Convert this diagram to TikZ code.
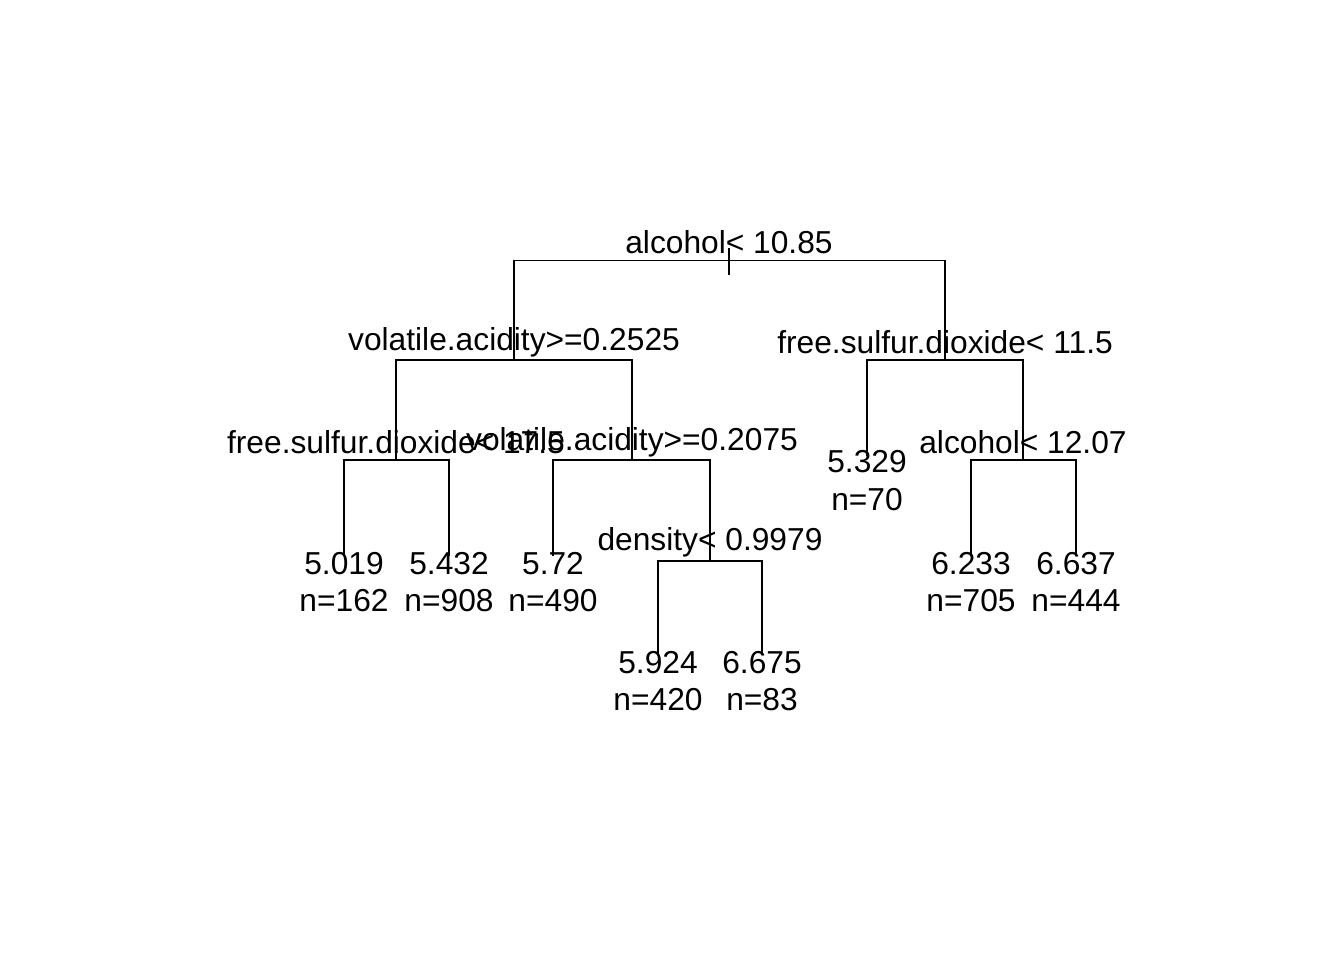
\documentclass[tikz,border=0pt]{standalone}
\usepackage{fontspec}
\setmainfont{Liberation Sans}
\usetikzlibrary{calc}
\begin{document}
\begin{tikzpicture}[x=0.75pt, y=-0.75pt, line width=1.4pt,
                    lab/.style={anchor=base, inner sep=0pt,
                                font=\fontsize{23.8}{28}\selectfont}]
    \useasboundingbox (0,0) rectangle (1344,960);
    % split points
    \coordinate (root) at (729, 260.5);
    \coordinate (va1) at (514, 360);
    \coordinate (fsd1) at (945, 360);
    \coordinate (fsd2) at (396, 460);
    \coordinate (va2) at (632, 460);
    \coordinate (alc2) at (1023, 460);
    \coordinate (dens) at (710, 561);
    % leaf ends
    \coordinate (lfA) at (344, 556);
    \coordinate (lfB) at (449, 556);
    \coordinate (lfC) at (553, 556);
    \coordinate (lfD) at (867, 456);
    \coordinate (lfE) at (658, 655);
    \coordinate (lfF) at (762, 655);
    \coordinate (lfG) at (971, 556);
    \coordinate (lfH) at (1076, 556);

    % branches
    \draw ($(root)+(0,-12.5)$) -- ($(root)+(0,14.5)$);
    \draw (va1) |- (root) -| (fsd1);
    \draw (fsd2) |- (va1) -| (va2);
    \draw (lfD) |- (fsd1) -| (alc2);
    \draw (lfA) |- (fsd2) -| (lfB);
    \draw (lfC) |- (va2) -| (dens);
    \draw (lfE) |- (dens) -| (lfF);
    \draw (lfG) |- (alc2) -| (lfH);

    % split labels
    \node[lab] (tRoot) at (729, 253) {alcohol< 10.85};
    \node[lab] (tVa1) at (514, 350) {volatile.acidity>=0.2525};
    \node[lab] (tFsd1) at (945, 353.5) {free.sulfur.dioxide< 11.5};
    \node[lab] (tFsd2) at (396, 453.5) {free.sulfur.dioxide< 17.5};
    \node[lab] (tVa2) at (632, 450.5) {volatile.acidity>=0.2075};
    \node[lab] (tAlc2) at (1023, 453.5) {alcohol< 12.07};
    \node[lab] (tDens) at (710, 550.5) {density< 0.9979};

    % leaf labels
    \node[lab] (yA) at (344, 574) {5.019};
    \node[lab] (nA) at (344, 611) {n=162};
    \node[lab] (yB) at (449, 574) {5.432};
    \node[lab] (nB) at (449, 611) {n=908};
    \node[lab] (yC) at (553, 574) {5.72};
    \node[lab] (nC) at (553, 611) {n=490};
    \node[lab] (yD) at (867, 472) {5.329};
    \node[lab] (nD) at (867, 510) {n=70};
    \node[lab] (yE) at (658, 673) {5.924};
    \node[lab] (nE) at (658, 710) {n=420};
    \node[lab] (yF) at (762, 673) {6.675};
    \node[lab] (nF) at (762, 710) {n=83};
    \node[lab] (yG) at (971, 574) {6.233};
    \node[lab] (nG) at (971, 611) {n=705};
    \node[lab] (yH) at (1076, 574) {6.637};
    \node[lab] (nH) at (1076, 611) {n=444};
\end{tikzpicture}
\end{document}
